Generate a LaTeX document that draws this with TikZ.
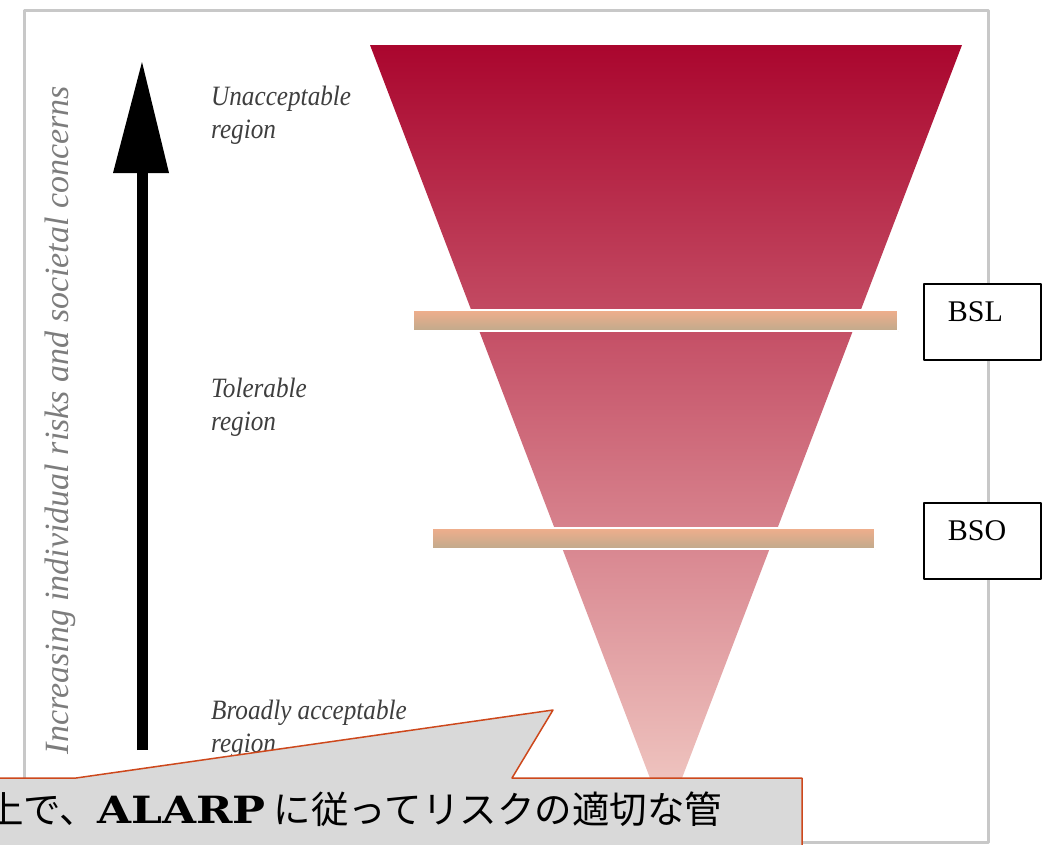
\documentclass[tikz,border=0pt]{standalone}
\usepackage{fontspec}
\setmainfont{Liberation Serif}
\newfontfamily\jpfont{Noto Sans CJK JP}
\newfontfamily\alarpfont[FakeStretch=1.17]{DejaVu Serif}

\begin{document}
\begin{tikzpicture}[x=1pt, y=-1pt, line join=round,
    regionlabel/.style={anchor=north west, align=left, inner sep=0pt, xscale=0.9,
      font=\itshape\fontsize{28}{33}\selectfont, text=cLabel},
    bsbox/.style={draw, fill=white, line width=1.6pt, anchor=north west, align=left,
      text width=69pt, inner xsep=24pt, inner ysep=0pt, text height=38pt, text depth=38pt,
      font=\fontsize{30}{32}\selectfont},
    bandbar/.style={top color=cBarHi, bottom color=cBarLo, draw=white, line width=2pt}]
  \definecolor{cTop}{RGB}{170, 6, 46}
  \definecolor{cMid}{RGB}{212, 128, 125}
  \definecolor{cLow}{RGB}{242, 205, 198}
  \definecolor{cBarHi}{RGB}{240, 174, 140}
  \definecolor{cBarLo}{RGB}{192, 170, 140}
  \definecolor{cFrame}{RGB}{200, 200, 200}
  \definecolor{cLabel}{RGB}{62, 62, 62}
  \definecolor{cAxis}{RGB}{125, 125, 125}
  \definecolor{cNoteFill}{RGB}{217, 217, 217}
  \definecolor{cNoteLine}{RGB}{205, 72, 28}

  \useasboundingbox (0,0) rectangle (1043,844);

  % frame
  \draw[cFrame, line width=3pt] (24,10) rectangle (988,842);

  % risk triangle
  \coordinate (TL) at (370,45);
  \coordinate (TR) at (962,45);
  \coordinate (B) at (666,820);
  \shade[top color=cTop, middle color=cMid, bottom color=cLow] (TL) -- (TR) -- (B) -- cycle;

  % bands
  \shade[bandbar] (413,310) rectangle (898,331);
  \shade[bandbar] (432,528) rectangle (875,549);

  \node[bsbox] (bsl) at (923,283) {BSL};
  \node[bsbox] (bso) at (923,502) {BSO};

  % arrow
  \coordinate (shaftBot) at (142,750);
  \coordinate (headBase) at (142,172);
  \coordinate (tip) at (142,62);
  \draw[line width=11pt] (shaftBot) -- (headBase);
  \fill (113,173) -- (tip) -- (169,173) -- cycle;

  \node[rotate=90, font=\itshape\fontsize{34}{36}\selectfont, text=cAxis] (axis) at (60,420)
    {Increasing individual risks and societal concerns};

  \node[regionlabel] (unacc) at (211,86) {Unacceptable\\region};
  \node[regionlabel] (toler) at (211,378) {Tolerable\\region};
  \node[regionlabel] (broad) at (211,700) {Broadly acceptable\\region};

  % note
  \coordinate (ptip) at (553,710);
  \filldraw[fill=cNoteFill, draw=cNoteLine, line width=1.5pt]
    (-10,778) -- (76,778) -- (ptip) -- (512,778) -- (802,778) -- (802,850) -- (-10,850) -- cycle;
  \node[anchor=base west, inner sep=0pt, font=\jpfont\fontsize{37.5}{40}\selectfont] (note) at (-14,823)
    {上で、{\alarpfont\bfseries ALARP} に従ってリスクの適切な管};
\end{tikzpicture}
\end{document}
